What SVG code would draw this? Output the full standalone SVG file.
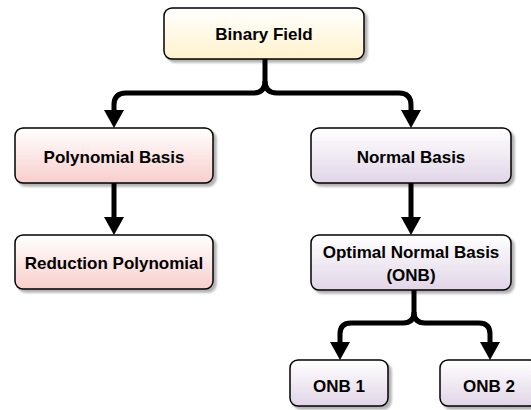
<svg xmlns="http://www.w3.org/2000/svg" width="531" height="410" viewBox="0 0 531 410">
  <defs>
    <linearGradient id="gYellow" x1="0" y1="0" x2="0" y2="1">
      <stop offset="0" stop-color="#ffffff"/>
      <stop offset="1" stop-color="#fff2cc"/>
    </linearGradient>
    <linearGradient id="gRed" x1="0" y1="0" x2="0" y2="1">
      <stop offset="0" stop-color="#ffffff"/>
      <stop offset="1" stop-color="#f8cecc"/>
    </linearGradient>
    <linearGradient id="gPurple" x1="0" y1="0" x2="0" y2="1">
      <stop offset="0" stop-color="#ffffff"/>
      <stop offset="1" stop-color="#e1d5e7"/>
    </linearGradient>
    <filter id="shadow" x="-10%" y="-10%" width="130%" height="140%">
      <feDropShadow dx="3" dy="3" stdDeviation="1.2" flood-color="#000" flood-opacity="0.3"/>
    </filter>
    <!-- arrowhead: 18 long, 20 wide; line end sits 12 before the tip -->
    <marker id="arrow" markerUnits="userSpaceOnUse" markerWidth="19" markerHeight="22" refX="6" refY="11" orient="auto" overflow="visible">
      <path d="M0,1 L18,11 L0,21 Z" fill="#000"/>
    </marker>
  </defs>
  <style>
    .box { stroke: #000; stroke-width: 1.5; filter: url(#shadow); }
    .lbl { font-family: "Liberation Sans", Arial, sans-serif; font-weight: bold; font-size: 17px; fill: #000; text-anchor: middle; }
    .edge { fill: none; stroke: #000; stroke-width: 5; }
  </style>

  <g id="connectors">
    <path class="edge" d="M265,59 V81 Q265,93 253,93 H126 Q114,93 114,105 V116" marker-end="url(#arrow)"/>
    <path class="edge" d="M265,81 Q265,93 277,93 H399 Q411,93 411,105 V116" marker-end="url(#arrow)"/>
    <path class="edge" d="M114,183 V223" marker-end="url(#arrow)"/>
    <path class="edge" d="M411,183 V223" marker-end="url(#arrow)"/>
    <path class="edge" d="M414,290 V312 Q414,323 403,323 H351 Q340,323 340,334 V348" marker-end="url(#arrow)"/>
    <path class="edge" d="M414,312 Q414,323 425,323 H479 Q490,323 490,334 V348" marker-end="url(#arrow)"/>
  </g>

  <g id="binary-field">
    <rect class="box" x="164" y="8" width="200" height="51" rx="8" fill="url(#gYellow)"/>
    <text class="lbl" x="264" y="40">Binary Field</text>
  </g>
  <g id="polynomial-basis">
    <rect class="box" x="15" y="128" width="198" height="55" rx="8" fill="url(#gRed)"/>
    <text class="lbl" x="114" y="163">Polynomial Basis</text>
  </g>
  <g id="reduction-polynomial">
    <rect class="box" x="15" y="235" width="198" height="54" rx="8" fill="url(#gRed)"/>
    <text class="lbl" x="114" y="269">Reduction Polynomial</text>
  </g>
  <g id="normal-basis">
    <rect class="box" x="311" y="128" width="200" height="55" rx="8" fill="url(#gPurple)"/>
    <text class="lbl" x="411" y="163">Normal Basis</text>
  </g>
  <g id="optimal-normal-basis">
    <rect class="box" x="311" y="235" width="200" height="55" rx="8" fill="url(#gPurple)"/>
    <text class="lbl" x="411" y="258">Optimal Normal Basis</text>
    <text class="lbl" x="411" y="281">(ONB)</text>
  </g>
  <g id="onb-1">
    <rect class="box" x="290" y="360" width="98" height="46" rx="8" fill="url(#gPurple)"/>
    <text class="lbl" x="339" y="392">ONB 1</text>
  </g>
  <g id="onb-2">
    <rect class="box" x="440" y="360" width="98" height="46" rx="8" fill="url(#gPurple)"/>
    <text class="lbl" x="489" y="392">ONB 2</text>
  </g>
</svg>
